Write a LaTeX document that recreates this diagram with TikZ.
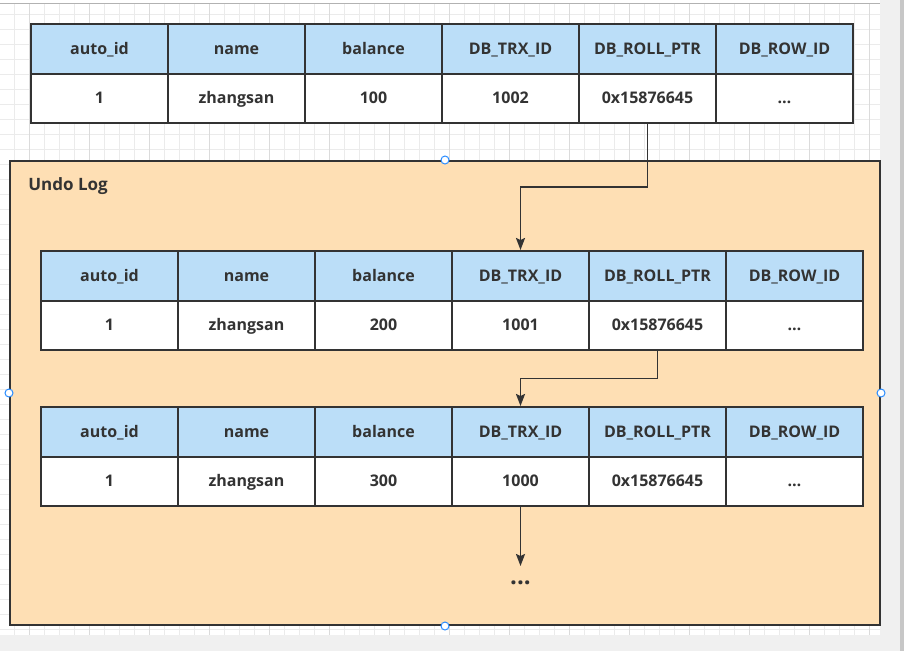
\documentclass[tikz,border=0pt]{standalone}
\usepackage{fontspec}
\setmainfont{Open Sans}
\usetikzlibrary{arrows.meta,calc}

\begin{document}
\begin{tikzpicture}[
x=1pt, y=-1pt,
line width=2pt,
every node/.style={font=\bfseries\fontsize{16}{19}\selectfont, text=txtgray},
cell/.style={draw=linegray, minimum width=137pt, minimum height=49.5pt, inner sep=0pt, anchor=north west, text height=12pt, text depth=1.5pt},
headcell/.style={cell, fill=hdrblue},
datacell/.style={cell, fill=white},
arr/.style={draw=linegray, line width=1.8pt, -{Stealth[length=12pt,width=9pt,inset=2pt]}},
handle/.style={circle, draw=handleblue, fill=white, line width=1pt, minimum size=8pt, inner sep=0pt},
gridline/.style={draw=black!8, line width=0.8pt}
]
\definecolor{txtgray}{RGB}{51,51,51}
\definecolor{linegray}{RGB}{51,51,51}
\definecolor{hdrblue}{RGB}{187,222,248}
\definecolor{logorange}{RGB}{254,223,180}
\definecolor{handleblue}{RGB}{41,140,255}
\definecolor{panelgray}{RGB}{240,240,240}

\useasboundingbox (0,0) rectangle (904,651);
\fill[white] (0,0) rectangle (904,651);

% canvas grid
\foreach \gx in {14,29,...,879}
  \draw[gridline] (\gx,3) -- (\gx,635);
\foreach \gy in {14,29,...,634}
  \draw[gridline] (0,\gy) -- (880,\gy);
\foreach \gx in {29,89,...,869}
  \draw[gridline, draw=black!14] (\gx,3) -- (\gx,635);
\fill[panelgray] (880,0) rectangle (904,651);
\fill[panelgray] (0,635) rectangle (904,651);
\fill[black!22] (900,0) rectangle (904,651);
\draw[black!30, line width=1pt] (0,3) -- (880,3);

% undo log panel
\node[draw=linegray, fill=logorange, minimum width=870pt, minimum height=464pt, inner sep=0pt] (undolog) at (445,393) {};
\node[anchor=west, font=\bfseries\fontsize{17}{20}\selectfont] (title) at ($(undolog.north west)+(15,26)$) {Undo Log};

% the three rows
\foreach \tb/\ox/\oy/\bal/\trx in {a/30/23/100/1002, b/40/250/200/1001, c/40/406/300/1000}{
  \foreach \lbl [count=\i] in {auto\_id,name,balance,DB\_TRX\_ID,DB\_ROLL\_PTR,DB\_ROW\_ID}
    \node[headcell] (\tb h\i) at ({\ox+(\i-1)*137},\oy) {\lbl};
  \foreach \val [count=\i] in {1,zhangsan,\bal,\trx,0x15876645,{\ldots}}
    \node[datacell] (\tb d\i) at ({\ox+(\i-1)*137},\oy+49.5) {\val};
}

\node[inner sep=0pt, font=\bfseries\fontsize{24}{24}\selectfont] (more) at ($(cd4.south)+(0,76)$) {...};

% roll pointers
\draw[arr] (ad5.south) |- ($(ad5.south)!.5!(bh4.north)$) -| (bh4.north);
\draw[arr] (bd5.south) |- ($(bd5.south)!.5!(ch4.north)$) -| (ch4.north);
\draw[arr, shorten >=14pt] (cd4.south) -- (more.north);

% selection handles
\foreach \side in {north,south,east,west}
  \node[handle] (h-\side) at (undolog.\side) {};
\end{tikzpicture}
\end{document}
